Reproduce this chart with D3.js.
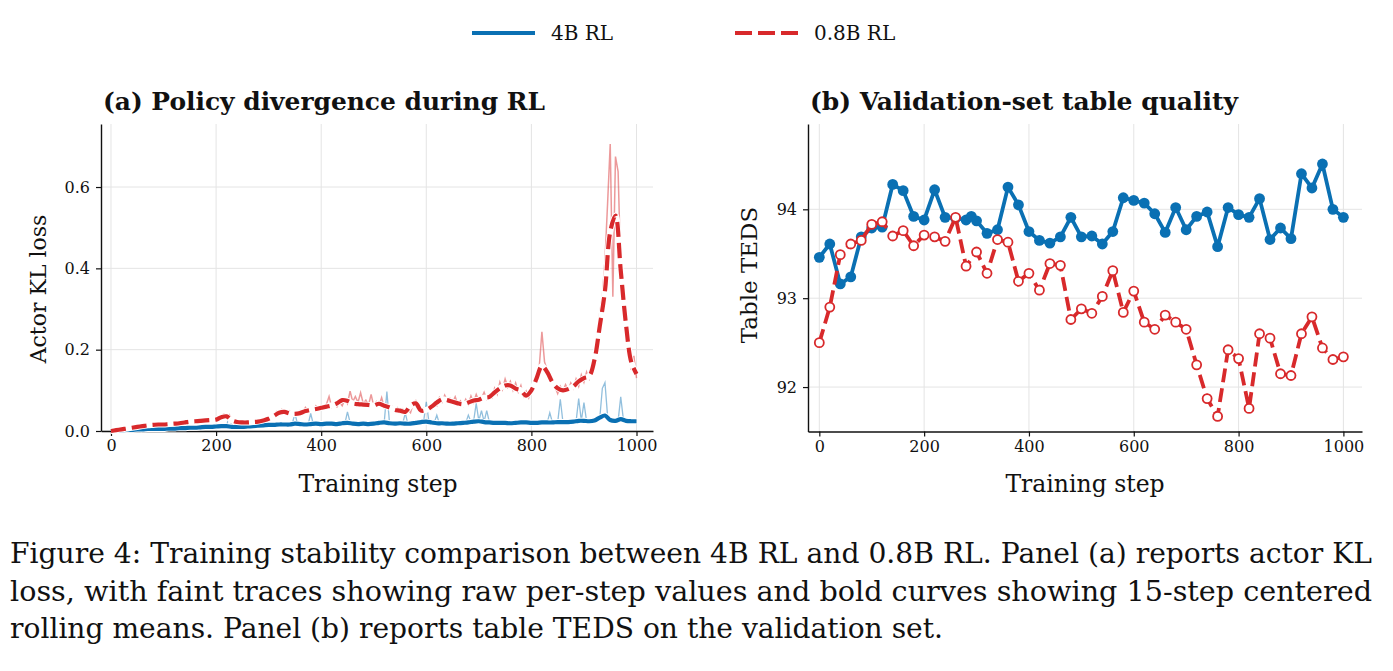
<!DOCTYPE html>
<html>
<head>
<meta charset="utf-8">
<script src="https://cdn.jsdelivr.net/npm/d3@7"></script>
<style>
  body { margin: 0; background: #fff; }
  svg { display: block; }
  text { font-family: "DejaVu Serif", serif; fill: #111; }
</style>
</head>
<body>
<svg id="chart" width="1393" height="671"></svg>
<script>
// ---- data ----
const seriesNames = ['4B RL', '0.8B RL'];

// panel (a): raw per-step KL loss, sampled every 5 steps (0..1000)
const rawStep = 5;
const blueRaw = [
  0.000,0.001,0.001,0.002,0.002,0.002,0.003,0.004,0.003,0.003,0.004,0.004,0.005,0.004,0.005,0.005,0.006,0.005,0.005,0.006,0.005,
  0.006,0.006,0.007,0.006,0.007,0.006,0.008,0.007,0.008,0.007,0.009,0.008,0.009,0.010,0.009,0.011,0.010,0.010,0.012,0.011,
  0.012,0.011,0.013,0.012,0.039,0.011,0.010,0.009,0.011,0.010,0.009,0.011,0.010,0.012,0.011,0.013,0.012,0.014,0.013,0.015,
  0.016,0.014,0.015,0.017,0.016,0.015,0.017,0.016,0.018,0.043,0.017,0.018,0.016,0.017,0.015,0.043,0.017,0.018,0.016,0.018,
  0.017,0.019,0.018,0.017,0.019,0.016,0.018,0.020,0.018,0.047,0.021,0.019,0.017,0.018,0.016,0.019,0.017,0.018,0.016,0.018,
  0.019,0.021,0.020,0.022,0.097,0.020,0.019,0.018,0.017,0.019,0.018,0.044,0.017,0.018,0.019,0.020,0.021,0.023,0.024,0.072,
  0.022,0.021,0.020,0.039,0.018,0.019,0.018,0.019,0.017,0.019,0.018,0.020,0.019,0.021,0.020,0.039,0.022,0.024,0.068,0.025,
  0.050,0.023,0.050,0.022,0.021,0.022,0.020,0.021,0.019,0.021,0.020,0.019,0.018,0.020,0.019,0.021,0.020,0.022,0.021,0.020,
  0.021,0.019,0.020,0.022,0.021,0.020,0.045,0.021,0.022,0.021,0.078,0.022,0.021,0.023,0.022,0.024,0.023,0.080,0.025,0.070,
  0.024,0.023,0.025,0.024,0.027,0.030,0.105,0.119,0.036,0.030,0.026,0.024,0.025,0.084,0.029,0.027,0.025,0.024,0.025,0.026
];
const redRaw = [
  0.000,0.001,0.003,0.004,0.005,0.007,0.008,0.009,0.011,0.012,0.013,0.014,0.016,0.015,0.017,0.016,0.017,0.015,0.018,0.016,0.017,
  0.018,0.017,0.019,0.018,0.020,0.019,0.022,0.021,0.024,0.023,0.025,0.024,0.027,0.026,0.028,0.027,0.030,0.026,0.029,0.027,
  0.031,0.038,0.042,0.034,0.040,0.030,0.024,0.027,0.020,0.023,0.019,0.024,0.020,0.023,0.021,0.025,0.022,0.028,0.026,0.032,
  0.034,0.038,0.048,0.044,0.053,0.046,0.041,0.049,0.038,0.045,0.040,0.050,0.046,0.058,0.049,0.055,0.050,0.062,0.053,0.060,
  0.056,0.066,0.085,0.058,0.064,0.059,0.070,0.062,0.078,0.067,0.098,0.072,0.085,0.070,0.094,0.068,0.076,0.063,0.090,0.061,
  0.072,0.063,0.082,0.058,0.066,0.055,0.060,0.050,0.057,0.046,0.054,0.044,0.052,0.045,0.068,0.075,0.060,0.048,0.055,0.049,
  0.058,0.054,0.068,0.062,0.082,0.071,0.088,0.074,0.080,0.070,0.084,0.066,0.074,0.062,0.078,0.065,0.086,0.070,0.090,0.074,
  0.080,0.095,0.078,0.090,0.082,0.105,0.090,0.120,0.102,0.128,0.108,0.122,0.100,0.118,0.096,0.112,0.085,0.098,0.082,0.105,
  0.115,0.130,0.158,0.244,0.170,0.150,0.135,0.118,0.108,0.092,0.110,0.098,0.114,0.100,0.118,0.105,0.128,0.110,0.138,0.120,
  0.145,0.128,0.150,0.185,0.215,0.290,0.330,0.420,0.560,0.706,0.330,0.675,0.638,0.400,0.300,0.230,0.195,0.150,0.185,0.130
];

// panel (a): 15-step centered rolling means, read every 10 steps (0..1000)
const smoothStep = 10;
const blueSmooth = [
  0.000,0.001,0.002,0.003,0.003,0.004,0.004,0.005,0.005,0.005,
  0.005,0.006,0.006,0.007,0.007,0.008,0.008,0.009,0.010,0.010,
  0.011,0.012,0.012,0.010,0.010,0.010,0.011,0.012,0.013,0.014,
  0.015,0.015,0.016,0.016,0.016,0.018,0.017,0.016,0.017,0.018,
  0.017,0.018,0.018,0.017,0.019,0.020,0.018,0.017,0.018,0.017,
  0.018,0.020,0.021,0.019,0.018,0.019,0.018,0.018,0.020,0.022,
  0.023,0.021,0.019,0.019,0.018,0.018,0.019,0.020,0.021,0.023,
  0.024,0.022,0.021,0.020,0.020,0.020,0.019,0.020,0.021,0.021,
  0.020,0.020,0.021,0.021,0.021,0.022,0.022,0.022,0.023,0.025,
  0.025,0.024,0.026,0.033,0.038,0.027,0.025,0.029,0.025,0.024,
  0.024
];
const redSmooth = [
  0.000,0.002,0.004,0.006,0.008,0.010,0.012,0.014,0.015,0.016,
  0.016,0.017,0.018,0.019,0.021,0.023,0.024,0.025,0.026,0.027,
  0.028,0.034,0.036,0.026,0.022,0.021,0.021,0.022,0.023,0.026,
  0.030,0.037,0.045,0.047,0.043,0.042,0.044,0.049,0.052,0.054,
  0.057,0.060,0.063,0.068,0.076,0.074,0.068,0.066,0.065,0.064,
  0.063,0.067,0.062,0.058,0.052,0.050,0.047,0.062,0.068,0.050,
  0.052,0.060,0.070,0.078,0.076,0.072,0.068,0.066,0.070,0.075,
  0.077,0.082,0.084,0.095,0.105,0.112,0.112,0.104,0.100,0.087,
  0.100,0.130,0.160,0.145,0.120,0.105,0.100,0.103,0.110,0.122,
  0.130,0.135,0.175,0.257,0.345,0.490,0.530,0.395,0.262,0.170,
  0.140
];

// panel (b): validation TEDS
const blueSteps = [0,20,40,60,80,100,120,140,160,180,200,220,240,260,280,290,300,320,340,360,380,400,420,440,460,480,
  500,520,540,560,580,600,620,640,660,680,700,720,740,760,780,800,820,840,860,880,900,920,940,960,980,1000];
const blueTeds = [93.46,93.61,93.16,93.24,93.69,93.79,93.80,94.28,94.21,93.92,93.88,94.22,93.91,93.90,93.88,93.92,93.87,
  93.73,93.77,94.25,94.05,93.75,93.65,93.62,93.69,93.91,93.69,93.70,93.61,93.75,94.13,94.10,94.07,93.95,93.74,94.02,
  93.77,93.92,93.97,93.58,94.02,93.94,93.91,94.12,93.66,93.79,93.67,94.40,94.24,94.51,94.00,93.91];
const redSteps = d3.range(0, 1001, 20);
const redTeds = [92.50,92.90,93.49,93.61,93.65,93.83,93.86,93.70,93.76,93.59,93.71,93.69,93.64,93.91,93.36,93.52,93.28,
  93.66,93.63,93.19,93.28,93.09,93.39,93.37,92.76,92.88,92.83,93.02,93.31,92.84,93.08,92.73,92.65,92.81,92.73,92.65,
  92.25,91.87,91.67,92.42,92.32,91.76,92.60,92.55,92.15,92.13,92.60,92.79,92.44,92.31,92.34];

const xTicks = [0, 200, 400, 600, 800, 1000];
const yTicksA = [0.0, 0.2, 0.4, 0.6];
const yTicksB = [92, 93, 94];

const captionLines = [
  'Figure 4: Training stability comparison between 4B RL and 0.8B RL. Panel (a) reports actor KL',
  'loss, with faint traces showing raw per-step values and bold curves showing 15-step centered',
  'rolling means. Panel (b) reports table TEDS on the validation set.'
];

// ---- styling ----
const BLUE = '#0a70b3', RED = '#d8292b';
const svg = d3.select('#chart');
svg.append('rect').attr('width', 1393).attr('height', 671).attr('fill', '#fff');

function frame(x, y, xt, yt, fmt) {
  const g = svg.append('g');
  // grid
  g.selectAll('.gx').data(xt).join('line')
    .attr('x1', d => x(d)).attr('x2', d => x(d))
    .attr('y1', y.range()[0]).attr('y2', y.range()[1])
    .attr('stroke', '#e4e4e4').attr('stroke-width', 1);
  g.selectAll('.gy').data(yt).join('line')
    .attr('y1', d => y(d)).attr('y2', d => y(d))
    .attr('x1', x.range()[0]).attr('x2', x.range()[1])
    .attr('stroke', '#e4e4e4').attr('stroke-width', 1);
  const ax = g.append('g').attr('transform', 'translate(0,' + y.range()[0] + ')')
    .call(d3.axisBottom(x).tickValues(xt).tickFormat(d3.format('d')).tickSize(5).tickSizeOuter(0).tickPadding(4));
  const ay = g.append('g').attr('transform', 'translate(' + x.range()[0] + ',0)')
    .call(d3.axisLeft(y).tickValues(yt).tickFormat(fmt).tickSize(5).tickSizeOuter(0).tickPadding(6));
  [ax, ay].forEach(a => {
    a.select('.domain').attr('stroke', '#111').attr('stroke-width', 1.4);
    a.selectAll('.tick line').attr('stroke', '#111').attr('stroke-width', 1.2);
    a.selectAll('.tick text').attr('font-family', 'DejaVu Serif').attr('font-size', 16).attr('fill', '#111');
  });
  return g;
}

// ---- panel (a) ----
const xa = d3.scaleLinear().domain([-19, 1031.4]).range([101, 653]);
const ya = d3.scaleLinear().domain([0, 0.755]).range([431, 124]);
const ga = frame(xa, ya, xTicks, yTicksA, d3.format('.1f'));

const rawLine = d3.line().x((d, i) => xa(i * rawStep)).y(d => ya(d));
const smLine = d3.line().x((d, i) => xa(i * smoothStep)).y(d => ya(d)).curve(d3.curveCatmullRom);

ga.append('path').datum(blueRaw).attr('d', rawLine)
  .attr('fill', 'none').attr('stroke', BLUE).attr('stroke-opacity', 0.45).attr('stroke-width', 1.3);
ga.append('path').datum(redRaw).attr('d', rawLine)
  .attr('fill', 'none').attr('stroke', RED).attr('stroke-opacity', 0.48).attr('stroke-width', 1.5);

ga.append('path').datum(blueSmooth).attr('d', smLine)
  .attr('fill', 'none').attr('stroke', '#fff').attr('stroke-width', 6).attr('stroke-linejoin', 'round');
ga.append('path').datum(blueSmooth).attr('d', smLine)
  .attr('fill', 'none').attr('stroke', BLUE).attr('stroke-width', 4.2).attr('stroke-linejoin', 'round');
ga.append('path').datum(redSmooth).attr('d', smLine)
  .attr('fill', 'none').attr('stroke', '#fff').attr('stroke-width', 6).attr('stroke-linejoin', 'round');
ga.append('path').datum(redSmooth).attr('d', smLine)
  .attr('fill', 'none').attr('stroke', RED).attr('stroke-width', 4.2)
  .attr('stroke-dasharray', '15,6').attr('stroke-linejoin', 'round');

svg.append('text').attr('x', 103).attr('y', 110).attr('font-weight', 'bold').attr('font-size', 24.5)
  .attr('textLength', 442).attr('lengthAdjust', 'spacingAndGlyphs')
  .text('(a) Policy divergence during RL');
svg.append('text').attr('transform', 'translate(46,289) rotate(-90)').attr('text-anchor', 'middle')
  .attr('font-size', 22).text('Actor KL loss');
svg.append('text').attr('x', 378).attr('y', 492).attr('text-anchor', 'middle')
  .attr('font-size', 23.5).text('Training step');

// ---- panel (b) ----
const xb = d3.scaleLinear().domain([-21.6, 1035.5]).range([808, 1362]);
const yb = d3.scaleLinear().domain([91.5, 94.96]).range([431.5, 124]);
const gb = frame(xb, yb, xTicks, yTicksB, d3.format('d'));

const blueB = blueSteps.map((s, i) => [s, blueTeds[i]]);
const redB = redSteps.map((s, i) => [s, redTeds[i]]);
const lineB = d3.line().x(d => xb(d[0])).y(d => yb(d[1]));

gb.append('path').datum(blueB).attr('d', lineB)
  .attr('fill', 'none').attr('stroke', BLUE).attr('stroke-width', 3.8).attr('stroke-linejoin', 'round');
gb.selectAll('.bdot').data(blueB).join('circle')
  .attr('cx', d => xb(d[0])).attr('cy', d => yb(d[1])).attr('r', 5.4).attr('fill', BLUE);
gb.append('path').datum(redB).attr('d', lineB)
  .attr('fill', 'none').attr('stroke', RED).attr('stroke-width', 3.8)
  .attr('stroke-dasharray', '14,6').attr('stroke-linejoin', 'round');
gb.selectAll('.rdot').data(redB).join('circle')
  .attr('cx', d => xb(d[0])).attr('cy', d => yb(d[1])).attr('r', 4.5)
  .attr('fill', '#fff').attr('stroke', RED).attr('stroke-width', 1.8);

svg.append('text').attr('x', 810).attr('y', 110).attr('font-weight', 'bold').attr('font-size', 24.5)
  .attr('textLength', 428).attr('lengthAdjust', 'spacingAndGlyphs')
  .text('(b) Validation-set table quality');
svg.append('text').attr('transform', 'translate(757,275) rotate(-90)').attr('text-anchor', 'middle')
  .attr('font-size', 23).text('Table TEDS');
svg.append('text').attr('x', 1085).attr('y', 492).attr('text-anchor', 'middle')
  .attr('font-size', 23.5).text('Training step');

// ---- legend ----
const leg = svg.append('g');
const legItems = [
  { name: seriesNames[0], color: BLUE, dash: null, x: 472 },
  { name: seriesNames[1], color: RED, dash: '17,6', x: 735 }
];
legItems.forEach(it => {
  leg.append('line').attr('x1', it.x).attr('x2', it.x + 63).attr('y1', 33).attr('y2', 33)
    .attr('stroke', it.color).attr('stroke-width', 4).attr('stroke-dasharray', it.dash);
  leg.append('text').attr('x', it.x + 79).attr('y', 40).attr('font-size', 20).text(it.name);
});

// ---- caption ----
const capWidths = [1362, 1362, 933];
captionLines.forEach((t, i) => {
  svg.append('text').attr('x', 10).attr('y', 563 + i * 37.5)
    .attr('font-family', 'Liberation Serif').attr('font-size', 27)
    .attr('textLength', capWidths[i]).attr('lengthAdjust', 'spacingAndGlyphs')
    .text(t);
});
</script>
</body>
</html>
